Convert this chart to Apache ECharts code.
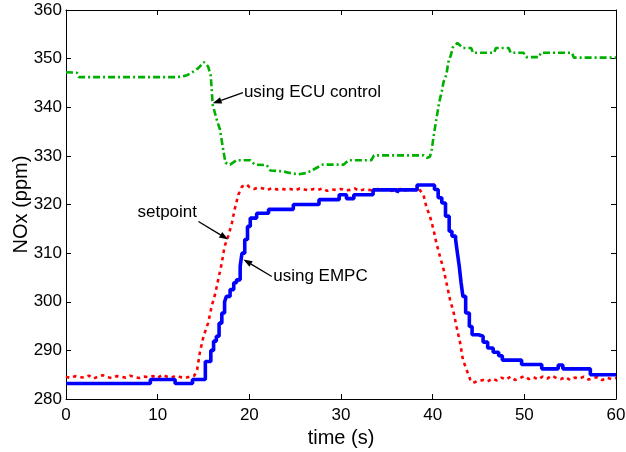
<!DOCTYPE html>
<html><head><meta charset="utf-8">
<script src="https://cdn.jsdelivr.net/npm/echarts@6/dist/echarts.min.js"></script>
<style>html,body{margin:0;padding:0;background:#fff}#c{width:626px;height:452px}</style>
</head><body><div id="c"></div>
<script>
// ---- data (time s, NOx ppm) ----
const xTicks = [0, 10, 20, 30, 40, 50, 60];
const yTicks = [280, 290, 300, 310, 320, 330, 340, 350, 360];

const ecuControl = [
  [0,347.2],[1.2,347.1],[1.4,346.2],[12,346.2],[12.6,346.3],[13.2,346.6],[13.7,347.1],[14.4,348],[15.05,349.3],
  [15.5,348.4],[15.8,346.4],[16.0,340.5],[16.5,337.1],[16.8,335.4],[17.0,333],[17.2,330.7],[17.4,328.6],
  [17.9,328.2],[18.6,329.1],[20.1,329.1],[20.6,328.2],[21.9,328.1],[22.3,327.0],[23.7,326.8],[24.4,326.5],
  [25.3,326.2],[26.3,326.5],[27.0,327.2],[28.0,328.2],[30.3,328.2],[30.8,329.1],[33.3,329.1],[33.6,330.1],
  [39.0,330.1],[39.4,329.6],[39.7,329.8],[39.9,331.3],[40.1,334],[40.4,337.5],[40.7,340.9],[41.0,343.3],
  [41.2,345.3],[41.5,346.7],[41.7,349.2],[42.0,350.8],[42.2,352.3],[42.7,353.2],[43.3,352.2],[44.2,352.2],
  [44.4,351.2],[46.7,351.2],[46.9,352.2],[48.3,352.2],[48.5,351.2],[49.9,351.2],[50.2,350.3],[51.6,350.3],
  [51.8,351.2],[55.2,351.2],[55.4,350.2],[60,350.2]
];

const setpoint = [
  [0,284.6],[0.5,284.3],[1,284.7],[1.5,284.5],[2,284.4],[2.5,284.8],[3,284.2],[3.5,284.6],[4,284.9],[4.5,284.5],
  [5,284.3],[5.5,284.7],[6,284.6],[6.5,284.4],[7,284.8],[7.5,284.5],[8,284.3],[8.5,284.6],[9,284.5],[9.5,284.7],
  [10,284.3],[10.5,285.0],[11,284.6],[11.5,284.4],[12,284.8],[12.5,284.5],[13,284.3],[13.5,284.6],
  [14.0,284.8],[14.3,286],[14.6,289.5],[15.0,292.9],[15.5,295.6],[15.9,299.1],[16.3,301.8],[16.6,304.5],
  [17.0,308],[17.3,311.4],[17.7,313.5],[18.1,316.2],[18.4,319],[18.8,322],[19.2,323.7],[19.7,324.1],[20.0,323.6],
  [20.5,323.2],[21,323.5],[21.5,323.3],[22,323.0],[22.5,323.4],[23,323.1],[23.5,323.3],[24,323.0],[24.5,323.2],
  [25,322.9],[25.5,323.3],[26,323.1],[26.5,322.9],[27,323.2],[27.5,323.0],[28,323.3],[28.5,322.8],[29,323.1],
  [29.5,323.0],[30,323.2],[30.5,322.9],[31,323.0],[31.5,323.3],[32,322.8],[32.5,323.1],[33,323.0],[33.5,322.9],
  [34,323.2],[34.5,323.0],[35,323.1],[35.5,322.8],[36,323.0],[36.5,323.2],[37,322.9],[37.5,323.1],[38,323.0],
  [38.5,323.2],[39.0,322],[39.3,319.6],[39.7,317.6],[40.1,314.8],[40.4,312.1],[40.8,309.3],[41.2,306.6],
  [41.5,303.9],[41.9,300.4],[42.3,297.7],[42.6,294.9],[43.0,291.5],[43.3,288.1],[43.7,286],[44.1,284],
  [44.4,283.3],[44.8,283.6],[45,283.5],[45.5,283.9],[46,283.6],[46.5,284.2],[47,283.8],[47.5,284.4],[48,284.0],
  [48.5,284.6],[49,283.9],[49.5,284.3],[50,284.7],[50.5,284.1],[51,284.5],[51.5,284.0],[52,284.6],[52.5,284.2],
  [53,284.8],[53.5,284.3],[54,284.1],[54.5,284.5],[55,283.9],[55.5,284.4],[56,284.2],[56.5,284.6],[57,284.0],
  [57.5,284.3],[58,284.5],[58.5,283.9],[59,284.4],[59.5,284.1],[60,284.3]
];

// staircase: each value holds until the next time
const empc = [
  [0,283.2],[9.2,284],[11.9,283.2],[13.8,284],[15.2,287.7],[15.8,290],[16.1,291.9],[16.4,292.9],[16.7,295.6],
  [17.0,297.7],[17.3,300],[17.5,301.1],[17.9,302.5],[18.3,303.9],[18.6,304.5],[19.0,307.3],[19.2,310],
  [19.5,312.8],[19.8,315.5],[20.1,317.2],[20.8,318.2],[22.1,319],[24.8,320],[27.6,321],[29.8,322],
  [30.6,321.2],[31.4,322],[33.5,323],[36.1,322.5],[36.3,323],[38.3,324],[40.2,323.1],[40.6,321.4],
  [41.0,320.3],[41.4,317.6],[41.8,314.5],[42.1,313.5],[42.5,312.8],[42.7,310],[42.9,307.3],[43.1,303.9],
  [43.3,301.1],[43.6,297.7],[44.0,294.9],[44.3,293.2],[45.0,292.9],[45.5,291.7],[46.0,290.5],[46.6,289.6],
  [47.2,288.9],[47.6,288],[49.7,287.1],[51.9,286.2],[53.7,287],[54.2,286.2],[57.2,285],[60,285]
];

// annotations: text, label anchor, arrow tail, arrow tip (data coordinates)
const notes = [
  {text:'using ECU control', anchor:[19.3,343.0], side:'left',  tail:[19.3,343.0], tip:[16.0,340.8]},
  {text:'setpoint',          anchor:[14.4,318.4], side:'right', tail:[14.45,316.5], tip:[17.7,312.8]},
  {text:'using EMPC',        anchor:[22.5,305.3], side:'left',  tail:[22.45,305.2], tip:[19.35,308.7]}
];

const FONT = 'Liberation Sans, Arial, Helvetica, sans-serif';
const chart = echarts.init(document.getElementById('c'), null, {renderer:'canvas'});
const axisCommon = {
  type:'value', splitLine:{show:false},
  axisLine:{show:true, onZero:false, lineStyle:{color:'#000', width:1}},
  axisTick:{show:true, inside:true, length:5, lineStyle:{color:'#000'}}
};
chart.setOption({
  animation:false,
  backgroundColor:'#fff',
  grid:{left:66, right:10, top:10, bottom:53, containLabel:false, outerBoundsMode:'none'},
  xAxis:[
    Object.assign({}, axisCommon, {min:xTicks[0], max:xTicks[xTicks.length-1], interval:10, position:'bottom',
      name:'time (s)', nameLocation:'middle', nameGap:29, nameMoveOverlap:false,
      nameTextStyle:{fontFamily:FONT, fontSize:20, color:'#000'},
      axisLabel:{fontFamily:FONT, fontSize:17, color:'#000', margin:8}}),
    Object.assign({}, axisCommon, {min:xTicks[0], max:xTicks[xTicks.length-1], interval:10, position:'top',
      axisLabel:{show:false}})
  ],
  yAxis:[
    Object.assign({}, axisCommon, {min:yTicks[0], max:yTicks[yTicks.length-1], interval:10, position:'left',
      name:'NOx (ppm)', nameLocation:'middle', nameGap:35, nameMoveOverlap:false,
      nameTextStyle:{fontFamily:FONT, fontSize:20, color:'#000'},
      axisLabel:{fontFamily:FONT, fontSize:17, color:'#000', margin:4}}),
    Object.assign({}, axisCommon, {min:yTicks[0], max:yTicks[yTicks.length-1], interval:10, position:'right',
      axisLabel:{show:false}})
  ],
  series:[
    {name:'ECU', type:'line', data:ecuControl, showSymbol:false, symbol:'none',
      lineStyle:{color:'#00b000', width:2.6, type:[7,3,2,3]}},
    {name:'setpoint', type:'line', data:setpoint, showSymbol:false, symbol:'none',
      lineStyle:{color:'#ff0000', width:2.6, type:[3.5,4]}},
    {name:'EMPC', type:'line', step:'end', data:empc, showSymbol:false, symbol:'none',
      lineStyle:{color:'#0000ff', width:3.6}}
  ]
});

const g = [];
notes.forEach(n => {
  const p = chart.convertToPixel({gridIndex:0}, n.anchor);
  const a = chart.convertToPixel({gridIndex:0}, n.tail);
  const b = chart.convertToPixel({gridIndex:0}, n.tip);
  g.push({type:'text', x:p[0] + (n.side === 'left' ? 1 : -1), y:p[1], silent:true, z:100,
    style:{text:n.text, fontFamily:FONT, fontSize:17, fill:'#000',
      align: n.side === 'left' ? 'left' : 'right', verticalAlign:'middle'}});
  const dx = b[0]-a[0], dy = b[1]-a[1], L = Math.hypot(dx,dy), ux = dx/L, uy = dy/L;
  const hl = 9, hw = 3.2;
  const bx = b[0]-ux*hl, by = b[1]-uy*hl;
  g.push({type:'line', silent:true, z:100, shape:{x1:a[0], y1:a[1], x2:bx, y2:by},
    style:{stroke:'#000', lineWidth:1.3}});
  g.push({type:'polygon', silent:true, z:100,
    shape:{points:[[b[0],b[1]],[bx - uy*hw, by + ux*hw],[bx + uy*hw, by - ux*hw]]},
    style:{fill:'#000'}});
});
chart.setOption({graphic:g});
</script></body></html>
